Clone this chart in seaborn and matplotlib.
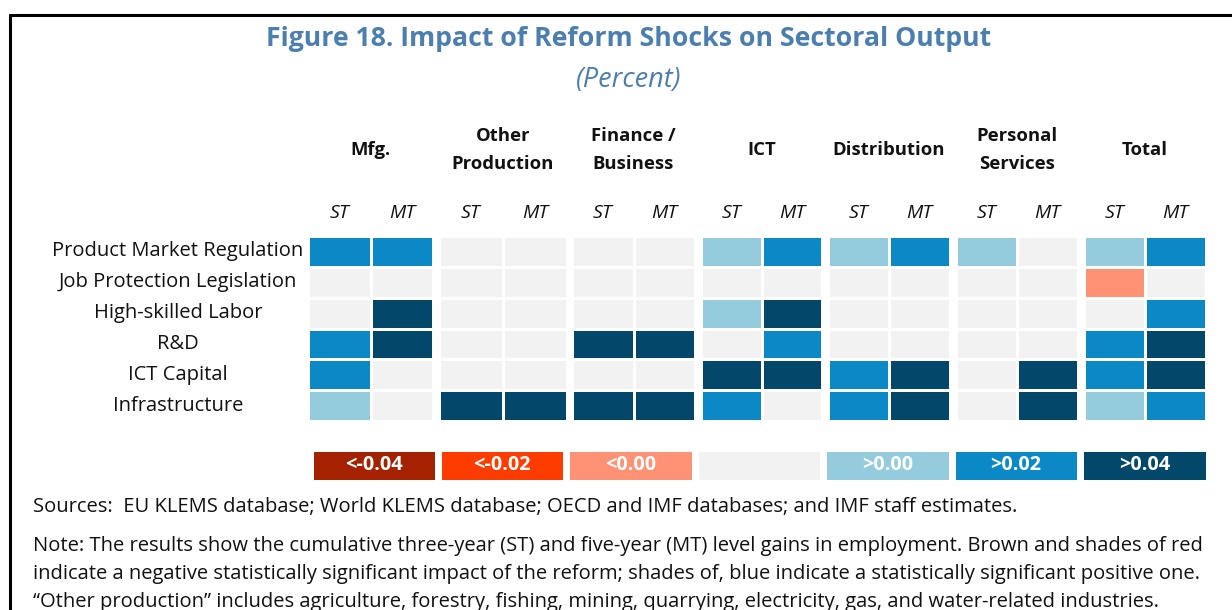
import numpy as np
import pandas as pd
import matplotlib
matplotlib.use("Agg")
import matplotlib.pyplot as plt
import matplotlib.transforms as mtransforms
from matplotlib.colors import ListedColormap
from matplotlib.lines import Line2D
import seaborn as sns

# ---------------- data ----------------
sectors = ["Mfg.", "Other\nProduction", "Finance /\nBusiness", "ICT",
           "Distribution", "Personal\nServices", "Total"]
periods = ["ST", "MT"]
reforms = ["Product Market Regulation", "Job Protection Legislation",
           "High-skilled Labor", "R&D", "ICT Capital", "Infrastructure"]

# significance class per cell: -3 (<-0.04) ... 0 (n.s.) ... 3 (>0.04)
# order: Mfg ST, MT, Other ST, MT, Finance ST, MT, ICT ST, MT,
#        Distribution ST, MT, Personal ST, MT, Total ST, MT
pmr            = [2, 2, 0, 0, 0, 0, 1, 2, 1, 2, 1, 0, 1, 2]
jpl            = [0, 0, 0, 0, 0, 0, 0, 0, 0, 0, 0, 0, -1, 0]
high_skilled   = [0, 3, 0, 0, 0, 0, 1, 3, 0, 0, 0, 0, 0, 2]
rnd            = [2, 3, 0, 0, 3, 3, 0, 2, 0, 0, 0, 0, 2, 3]
ict_capital    = [2, 0, 0, 0, 0, 0, 3, 3, 2, 3, 0, 3, 2, 3]
infrastructure = [1, 0, 3, 3, 3, 3, 2, 0, 2, 3, 0, 3, 1, 2]

legend_levels = [-3, -2, -1, 0, 1, 2, 3]
legend_labels = ["<-0.04", "<-0.02", "<0.00", "", ">0.00", ">0.02", ">0.04"]

title = "Figure 18. Impact of Reform Shocks on Sectoral Output"
subtitle = "(Percent)"
sources = ("Sources:  EU KLEMS database; World KLEMS database; OECD and IMF "
           "databases; and IMF staff estimates.")
note_lines = [
    "Note: The results show the cumulative three-year (ST) and five-year (MT) "
    "level gains in employment. Brown and shades of red",
    "indicate a negative statistically significant impact of the reform; "
    "shades of, blue indicate a statistically significant positive one.",
    "\u201cOther production\u201d includes agriculture, forestry, fishing, mining, "
    "quarrying, electricity, gas, and water-related industries.",
]

# ---------------- style ----------------
palette = ["#A52200", "#FF3C00", "#FF9175", "#F2F2F2",
           "#94CCDD", "#0B88C6", "#03486A"]
cmap = ListedColormap(palette)
title_color = "#4A7FAF"

sns.set_theme(style="white")
FONT = ["Open Sans", "Lato", "DejaVu Sans"]
plt.rcParams["font.family"] = FONT

W, H = 1232, 610
fig = plt.figure(figsize=(W / 100, H / 100), dpi=100)
fig.patch.set_facecolor("white")


def fx(px):
    return px / W


def fy(py):
    return 1 - py / H


values = np.array([pmr, jpl, high_skilled, rnd, ict_capital, infrastructure])
columns = pd.MultiIndex.from_product([range(len(sectors)), periods])
df = pd.DataFrame(values, index=reforms, columns=columns)

# layout of the sector blocks (pixels)
grp_left = [309, 440, 573, 702, 829, 957, 1085]
grp_right = [432, 566, 694, 821, 949, 1077, 1205]
top_px, bot_px = 237, 420
lw_px = 2.6
lw_pt = lw_px * 0.72

axes = []
for g, name in enumerate(sectors):
    l = grp_left[g] - lw_px / 2
    r = grp_right[g] + lw_px / 2
    t = top_px - lw_px / 2
    b = bot_px + lw_px / 2
    ax = fig.add_axes([fx(l), fy(b), (r - l) / W, (b - t) / H])
    sub = df[g]
    sns.heatmap(sub, ax=ax, cmap=cmap, vmin=-3.5, vmax=3.5, cbar=False,
                linewidths=lw_pt, linecolor="white",
                xticklabels=False, yticklabels=False)
    ax.set_xlabel("")
    ax.set_ylabel("")
    # ST / MT labels
    tr = mtransforms.blended_transform_factory(ax.transData, fig.transFigure)
    for j, p in enumerate(periods):
        ax.text(j + 0.5, fy(213), p, transform=tr, ha="center", va="center",
                fontsize=14, style="italic", color="#111111")
    # sector header
    ax.text(1.0, fy(150), name, transform=tr, ha="center", va="center",
            fontsize=13.3, fontweight="bold", color="#111111", linespacing=1.7)
    axes.append(ax)

# row labels
tr_rows = mtransforms.blended_transform_factory(fig.transFigure, axes[0].transData)
for i, rlab in enumerate(reforms):
    axes[0].text(fx(178), i + 0.5, rlab, transform=tr_rows, ha="center",
                 va="center", fontsize=14.5, color="#111111")

# legend strip
leg_lw_px = 7
ll, lr = 313 - leg_lw_px / 2, 1205 + leg_lw_px / 2
lt, lb = 451 - leg_lw_px / 2, 479 + leg_lw_px / 2
lax = fig.add_axes([fx(ll), fy(lb), (lr - ll) / W, (lb - lt) / H])
sns.heatmap(np.array([legend_levels]), ax=lax, cmap=cmap, vmin=-3.5, vmax=3.5,
            cbar=False, linewidths=leg_lw_px * 0.72, linecolor="white",
            annot=np.array([legend_labels]), fmt="",
            annot_kws=dict(color="white", fontweight="bold", fontsize=14.3),
            xticklabels=False, yticklabels=False)

# titles
fig.text(fx(629), fy(39), title, ha="center", va="center", fontsize=19.2,
         fontweight="bold", color=title_color)
fig.text(fx(629), fy(80), subtitle, ha="center", va="center", fontsize=19.5,
         style="italic", color=title_color)

# sources / notes
fig.text(fx(33), fy(507), sources, ha="left", va="center", fontsize=14.5,
         color="#111111")
for k, line in enumerate(note_lines):
    fig.text(fx(33), fy(546 + 28 * k), line, ha="left", va="center",
             fontsize=14.5, color="#111111")

# frame
fig.add_artist(Line2D([fx(10), fx(1232)], [fy(15), fy(15)], color="black",
                      linewidth=2.2, transform=fig.transFigure))
fig.add_artist(Line2D([fx(10), fx(10)], [fy(15), fy(610)], color="black",
                      linewidth=2.2, transform=fig.transFigure))

fig.savefig("out.png", dpi=100, facecolor="white")
